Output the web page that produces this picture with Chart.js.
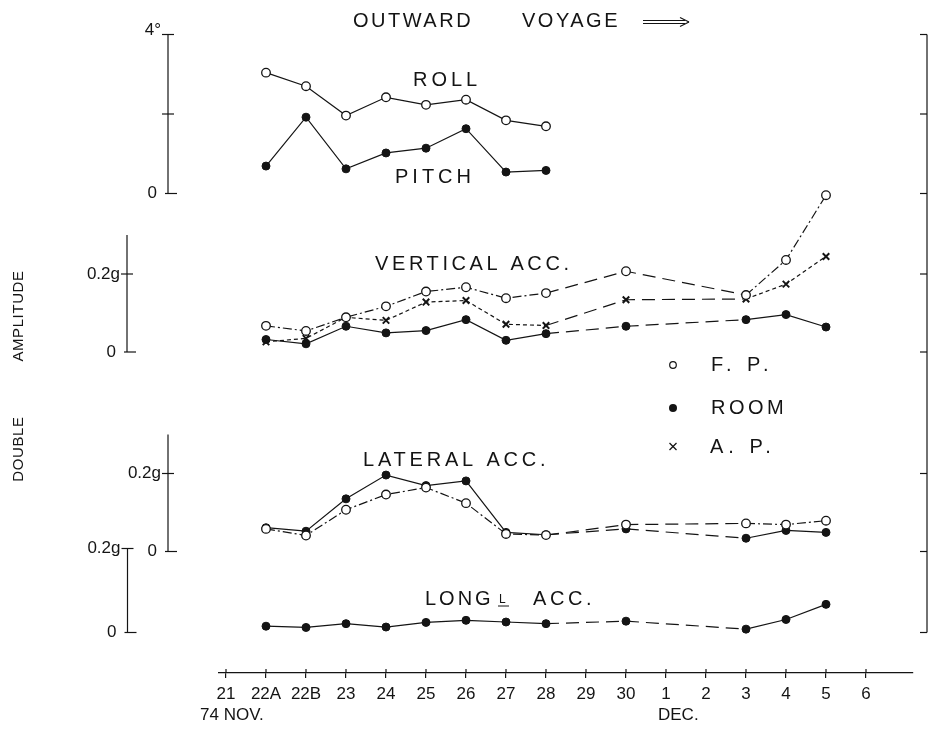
<!DOCTYPE html>
<html>
<head>
<meta charset="utf-8">
<script src="https://cdn.jsdelivr.net/npm/chart.js@4/dist/chart.umd.min.js"></script>
<style>
  html, body { margin: 0; padding: 0; background: #fff; }
  #wrap { width: 928px; height: 733px; }
</style>
</head>
<body>
<div id="wrap"><canvas id="voyageChart" width="928" height="733"></canvas></div>
<script>
// x axis: voyage dates (two runs on the 22nd)
const days = ['21', '22A', '22B', '23', '24', '25', '26', '27', '28', '29', '30', '1', '2', '3', '4', '5', '6'];
const motionDays = ['22A', '22B', '23', '24', '25', '26', '27', '28'];
const accDays = ['22A', '22B', '23', '24', '25', '26', '27', '28', '30', '3', '4', '5'];

// roll / pitch, degrees
const roll = [3.04, 2.70, 1.96, 2.42, 2.23, 2.36, 1.84, 1.69];
const pitch = [0.69, 1.92, 0.62, 1.02, 1.14, 1.63, 0.54, 0.58];

// vertical acceleration, g
const vertFP = [0.067, 0.054, 0.089, 0.117, 0.155, 0.166, 0.138, 0.151, 0.207, 0.146, 0.236, 0.402];
const vertRoom = [0.032, 0.021, 0.066, 0.049, 0.055, 0.083, 0.030, 0.047, 0.066, 0.083, 0.096, 0.064];
const vertAP = [0.026, 0.035, 0.089, 0.081, 0.128, 0.132, 0.071, 0.068, 0.134, 0.136, 0.174, 0.245];

// lateral acceleration, g
const latFP = [0.058, 0.041, 0.107, 0.146, 0.164, 0.124, 0.045, 0.042, 0.069, 0.072, 0.069, 0.079];
const latRoom = [0.061, 0.052, 0.135, 0.196, 0.169, 0.181, 0.049, 0.043, 0.058, 0.034, 0.054, 0.049];

// longitudinal acceleration, g
const longRoom = [0.015, 0.012, 0.021, 0.013, 0.024, 0.029, 0.025, 0.021, 0.027, 0.008, 0.031, 0.067];

const rollTicks = [0, 2, 4];
const rollTickLabels = ['0', '', '4°'];
const accTicks = [0, 0.2];
const accTickLabels = ['0', '0.2g'];

const INK = '#141414';
const FONT = '"Liberation Sans", Arial, sans-serif';

// plot frame
const CHART_TOP = 30;
const CHART_BOTTOM = 673;
const CHART_LEFT = 219;
const CHART_RIGHT = 913;
const X_FIRST_PX = 226;
const X_STEP_PX = 40;

// each panel gets its own y scale spanning the whole frame
const panels = {
    yRoll: { refValue: 4, refPx: 34.5, zeroPx: 193.5, axisX: 168, lineTop: 4, ticks: rollTicks, labels: rollTickLabels },
    yVert: { refValue: 0.2, refPx: 274, zeroPx: 352, axisX: 127, lineTop: 0.3, ticks: accTicks, labels: accTickLabels },
    yLat: { refValue: 0.2, refPx: 473.5, zeroPx: 551.5, axisX: 168, lineTop: 0.3, ticks: accTicks, labels: accTickLabels },
    yLong: { refValue: 0.2, refPx: 548.5, zeroPx: 632.5, axisX: 127.5, lineTop: 0.2, ticks: accTicks, labels: accTickLabels }
};

function scaleRange(p) {
    const perPx = p.refValue / (p.zeroPx - p.refPx);
    return {
        min: -(CHART_BOTTOM - p.zeroPx) * perPx,
        max: p.refValue + (p.refPx - CHART_TOP) * perPx
    };
}

const DASH_DOT = [9, 3, 2, 3];
const SHORT_DASH = [4, 3];
const LONG_DASH = [13, 7];

const openCircle = { pointStyle: 'circle', pointRadius: 4.3, pointBackgroundColor: '#fff', pointBorderColor: INK, pointBorderWidth: 1.3 };
const dot = { pointStyle: 'circle', pointRadius: 4, pointBackgroundColor: INK, pointBorderColor: INK, pointBorderWidth: 1 };
const cross = { pointStyle: 'crossRot', pointRadius: 4.6, pointBackgroundColor: INK, pointBorderColor: INK, pointBorderWidth: 2 };

// segments that jump over missing days are drawn long-dashed
function lineStyle(dash) {
    return {
        borderColor: INK,
        borderWidth: 1.2,
        borderDash: dash,
        tension: 0,
        fill: false,
        segment: {
            borderDash: ctx => (ctx.p1.parsed.x - ctx.p0.parsed.x > 1 ? LONG_DASH : dash)
        }
    };
}

function series(label, dayList, values, yAxisID, marker, dash) {
    return {
        label: label,
        yAxisID: yAxisID,
        data: dayList.map((d, i) => ({ x: days.indexOf(d), y: values[i] })),
        ...marker,
        ...lineStyle(dash)
    };
}

function line(ctx, x1, y1, x2, y2) {
    ctx.beginPath();
    ctx.moveTo(x1, y1);
    ctx.lineTo(x2, y2);
    ctx.stroke();
}

function spaced(ctx, text, x, y, size, spacing) {
    ctx.font = size + 'px ' + FONT;
    ctx.letterSpacing = spacing + 'px';
    ctx.textAlign = 'left';
    ctx.textBaseline = 'middle';
    ctx.fillText(text, x, y);
    ctx.letterSpacing = '0px';
}

// axes, captions and key that sit outside the library's own scales
const decorations = {
    id: 'decorations',
    afterDraw(chart) {
        const ctx = chart.ctx;
        const xs = chart.scales.x;
        const axisY = chart.chartArea.bottom;
        ctx.save();
        ctx.strokeStyle = INK;
        ctx.fillStyle = INK;
        ctx.lineWidth = 1.2;

        // left value axes
        Object.keys(panels).forEach(id => {
            const p = panels[id];
            const s = chart.scales[id];
            line(ctx, p.axisX, s.getPixelForValue(p.lineTop), p.axisX, s.getPixelForValue(0));
            p.ticks.forEach((v, i) => {
                const y = s.getPixelForValue(v);
                if (v === 0) {
                    line(ctx, p.axisX - 3, y, p.axisX + 9, y);
                } else {
                    line(ctx, p.axisX - 6, y, p.axisX + 6, y);
                }
                const lab = p.labels[i];
                if (lab) {
                    ctx.font = '17px ' + FONT;
                    ctx.textAlign = 'right';
                    ctx.textBaseline = 'middle';
                    ctx.fillText(lab, p.axisX - (v === 0 ? 11 : 7), y - (lab === '4°' ? 4 : 0));
                }
            });
        });

        // right frame line with the same tick values
        const rightX = 927;
        const top = chart.scales.yRoll.getPixelForValue(4);
        const bottom = chart.scales.yLong.getPixelForValue(0);
        line(ctx, rightX, top, rightX, bottom);
        Object.keys(panels).forEach(id => {
            const s = chart.scales[id];
            panels[id].ticks.forEach(v => {
                if (id === 'yLong' && v !== 0) return;
                const y = s.getPixelForValue(v);
                line(ctx, rightX - 7, y, rightX, y);
            });
        });

        // date ticks poke above the axis line too
        days.forEach((d, i) => {
            const x = xs.getPixelForValue(i);
            line(ctx, x, axisY - 4, x, axisY);
        });

        ctx.font = '17px ' + FONT;
        ctx.textAlign = 'left';
        ctx.textBaseline = 'middle';
        ctx.fillText('74 NOV.', xs.getPixelForValue(0) - 26, axisY + 42);
        ctx.fillText('DEC.', xs.getPixelForValue(days.indexOf('1')) - 8, axisY + 42);

        // heading with double arrow
        spaced(ctx, 'OUTWARD', 353, 21, 20, 2.5);
        spaced(ctx, 'VOYAGE', 522, 21, 20, 2.5);
        ctx.lineWidth = 1.1;
        line(ctx, 643, 20.5, 685, 20.5);
        line(ctx, 643, 23.5, 685, 23.5);
        line(ctx, 680, 17.5, 689, 22);
        line(ctx, 680, 26.5, 689, 22);
        ctx.lineWidth = 1.2;

        // panel captions
        spaced(ctx, 'ROLL', 413, 80, 20, 4);
        spaced(ctx, 'PITCH', 395, 177, 20, 4);
        spaced(ctx, 'VERTICAL ACC.', 375, 264, 20, 3.6);
        spaced(ctx, 'LATERAL ACC.', 363, 460, 20, 3.8);
        spaced(ctx, 'LONG', 425, 599, 20, 3);
        ctx.font = '12px ' + FONT;
        ctx.textBaseline = 'alphabetic';
        ctx.fillText('L', 499, 603);
        ctx.lineWidth = 1;
        line(ctx, 498, 606, 509, 606);
        ctx.lineWidth = 1.2;
        spaced(ctx, 'ACC.', 533, 599, 20, 3.6);

        // key
        ctx.lineWidth = 1.2;
        ctx.beginPath();
        ctx.arc(673, 365, 3.3, 0, Math.PI * 2);
        ctx.stroke();
        ctx.beginPath();
        ctx.arc(673, 408, 4, 0, Math.PI * 2);
        ctx.fill();
        line(ctx, 669.5, 443, 676.5, 450);
        line(ctx, 676.5, 443, 669.5, 450);
        spaced(ctx, 'F. P.', 711, 365, 20, 5);
        spaced(ctx, 'ROOM', 711, 408, 20, 3.5);
        spaced(ctx, 'A. P.', 710, 447, 20, 5);

        // vertical axis caption
        ctx.save();
        ctx.translate(19, 0);
        ctx.rotate(-Math.PI / 2);
        ctx.font = '15px ' + FONT;
        ctx.letterSpacing = '0.6px';
        ctx.textAlign = 'center';
        ctx.textBaseline = 'middle';
        ctx.fillText('AMPLITUDE', -316, 0);
        ctx.fillText('DOUBLE', -449, 0);
        ctx.restore();

        ctx.restore();
    }
};

const xMin = -(X_FIRST_PX - CHART_LEFT) / X_STEP_PX;
const xMax = (CHART_RIGHT - X_FIRST_PX) / X_STEP_PX;

new Chart(document.getElementById('voyageChart').getContext('2d'), {
    type: 'line',
    data: {
        datasets: [
            series('ROLL', motionDays, roll, 'yRoll', openCircle, []),
            series('PITCH', motionDays, pitch, 'yRoll', dot, []),
            series('VERT F.P.', accDays, vertFP, 'yVert', openCircle, DASH_DOT),
            series('VERT A.P.', accDays, vertAP, 'yVert', cross, SHORT_DASH),
            series('VERT ROOM', accDays, vertRoom, 'yVert', dot, []),
            series('LAT F.P.', accDays, latFP, 'yLat', openCircle, DASH_DOT),
            series('LAT ROOM', accDays, latRoom, 'yLat', dot, []),
            series('LONG ROOM', accDays, longRoom, 'yLong', dot, [])
        ]
    },
    options: {
        responsive: false,
        animation: false,
        layout: {
            padding: { left: CHART_LEFT, right: 928 - CHART_RIGHT, top: CHART_TOP, bottom: 0 }
        },
        plugins: {
            legend: { display: false },
            tooltip: { enabled: false }
        },
        scales: {
            x: {
                type: 'linear',
                position: 'bottom',
                min: xMin,
                max: xMax,
                afterBuildTicks: scale => {
                    scale.ticks = days.map((d, i) => ({ value: i }));
                },
                afterFit: scale => {
                    scale.height = 733 - CHART_BOTTOM;
                },
                ticks: {
                    callback: v => days[v],
                    autoSkip: false,
                    maxRotation: 0,
                    color: INK,
                    padding: 6,
                    font: { family: FONT, size: 17 }
                },
                grid: {
                    display: true,
                    drawOnChartArea: false,
                    drawTicks: true,
                    tickLength: 5,
                    color: INK,
                    lineWidth: 1.2
                },
                border: { display: true, color: INK, width: 1.2 }
            },
            yRoll: { type: 'linear', display: false, ...scaleRange(panels.yRoll) },
            yVert: { type: 'linear', display: false, ...scaleRange(panels.yVert) },
            yLat: { type: 'linear', display: false, ...scaleRange(panels.yLat) },
            yLong: { type: 'linear', display: false, ...scaleRange(panels.yLong) }
        }
    },
    plugins: [decorations]
});
</script>
</body>
</html>
